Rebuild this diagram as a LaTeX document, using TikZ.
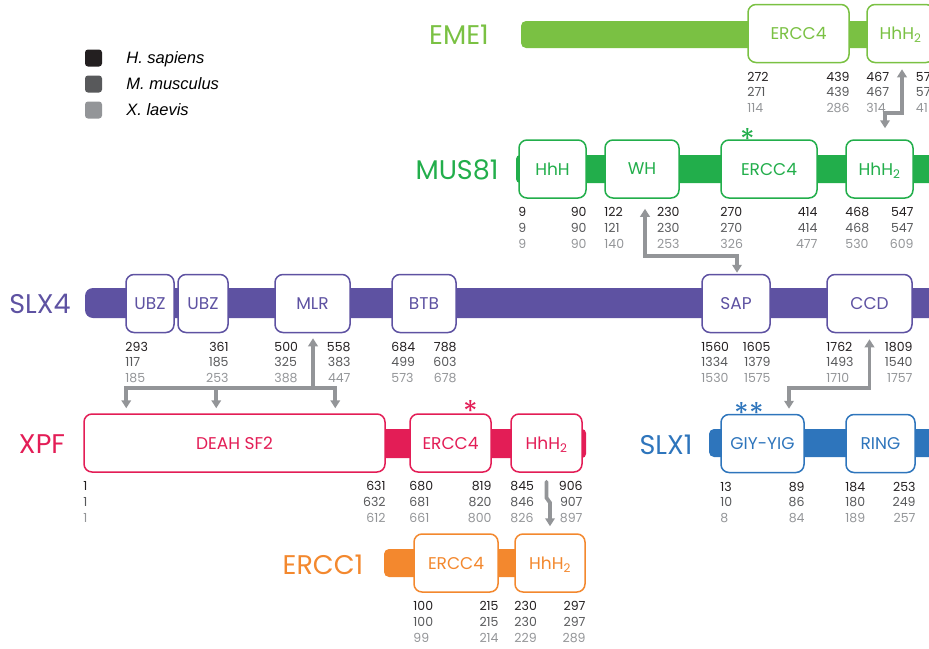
\documentclass[tikz,border=0pt]{standalone}
\usepackage{fontspec}
\setmainfont{Poppins}
\newfontfamily\legendfont{Liberation Sans}
\usetikzlibrary{arrows.meta,calc,positioning}

\definecolor{emegreen}{HTML}{7AC143}
\definecolor{musgreen}{HTML}{22AE4B}
\definecolor{slxpurple}{HTML}{5E52A2}
\definecolor{xpfred}{HTML}{E31D56}
\definecolor{slxblue}{HTML}{2E75BC}
\definecolor{erccorange}{HTML}{F3882E}
\definecolor{linkgray}{HTML}{939598}
\definecolor{hsap}{HTML}{231F20}
\definecolor{mmus}{HTML}{58595B}
\definecolor{xlae}{HTML}{939598}

\newcommand{\trio}[3]{\textcolor{hsap}{#1}\\\textcolor{mmus}{#2}\\\textcolor{xlae}{#3}}

\tikzset{
  dom/.style={draw=#1, fill=white, text=#1, line width=1.5pt, rounded corners=8pt,
    minimum height=58pt, inner sep=0pt, text depth=0pt, font=\fontsize{17}{17}\selectfont},
  prot/.style={text=#1, inner sep=0pt, font=\fontsize{27}{27}\selectfont},
  numl/.style={anchor=north west, align=left, inner sep=0pt, yshift=-8.5pt, font=\fontsize{12.5}{15.8}\selectfont},
  numr/.style={anchor=north east, align=right, inner sep=0pt, yshift=-8.5pt, font=\fontsize{12.5}{15.8}\selectfont},
  link/.style={draw=linkgray, line width=3.8pt},
  lk/.tip={Triangle[length=8pt,width=9.5pt]},
  astk/.style={text=#1, inner sep=0pt, font=\fontsize{30}{30}\selectfont},
  legbox/.style={fill=#1, rounded corners=3pt, minimum size=17pt, inner sep=0pt},
  legtext/.style={anchor=west, inner sep=0pt, text depth=0pt, font=\legendfont\itshape\fontsize{16.5}{16.5}\selectfont}
}

\begin{document}
\begin{tikzpicture}[x=1pt,y=-1pt]
    \useasboundingbox (0,0) rectangle (929,648);
    \clip (0,0) rectangle (929,648);

    % Legend
    \node[legbox=hsap] (lg1) at (93.5,58) {};
    \node[legbox=mmus] (lg2) at (93.5,84) {};
    \node[legbox=xlae] (lg3) at (93.5,110) {};
    \node[legtext, right=24pt of lg1] (lgt1) {H. sapiens};
    \node[legtext, right=24pt of lg2] (lgt2) {M. musculus};
    \node[legtext, right=24pt of lg3] (lgt3) {X. laevis};

    % Backbones
    \fill[emegreen, rounded corners=5pt] (521,21) rectangle (960,48);
    \fill[musgreen, rounded corners=4pt] (516,155) rectangle (960,183);
    \fill[slxpurple, rounded corners=8pt] (85,288) rectangle (960,318);
    \fill[xpfred, rounded corners=4pt] (380,429) rectangle (586,458);
    \fill[slxblue, rounded corners=5pt] (709,429) rectangle (960,457);
    \fill[erccorange, rounded corners=5pt] (384,549) rectangle (540,577);

    % Protein names
    \node[prot=emegreen] (eme1) at (459,35) {EME1};
    \node[prot=musgreen] (mus81) at (457,170) {MUS81};
    \node[prot=slxpurple] (slx4) at (40,304) {SLX4};
    \node[prot=xpfred] (xpf) at (42,444) {XPF};
    \node[prot=slxblue] (slx1) at (666,445) {SLX1};
    \node[prot=erccorange] (ercc1) at (323,565) {ERCC1};

    % Domains
    \node[dom=emegreen, minimum width=101pt] (eercc) at (798.5,33.5) {ERCC4};
    \node[dom=emegreen, minimum width=67pt] (ehhh) at (900.5,33.5) {HhH\textsubscript{2}};

    \node[dom=musgreen, minimum width=67pt] (mhhh) at (552.5,169) {HhH};
    \node[dom=musgreen, minimum width=74pt] (mwh) at (642,169) {WH};
    \node[dom=musgreen, minimum width=96pt] (mercc) at (769,169) {ERCC4};
    \node[dom=musgreen, minimum width=67pt] (mhhh2) at (879.5,169) {HhH\textsubscript{2}};

    \node[dom=slxpurple, minimum width=48pt] (subz1) at (150,303.5) {UBZ};
    \node[dom=slxpurple, minimum width=50pt] (subz2) at (203,303.5) {UBZ};
    \node[dom=slxpurple, minimum width=75pt] (smlr) at (312.5,303.5) {MLR};
    \node[dom=slxpurple, minimum width=64pt] (sbtb) at (424,303.5) {BTB};
    \node[dom=slxpurple, minimum width=68pt] (ssap) at (736,303.5) {SAP};
    \node[dom=slxpurple, minimum width=85pt] (sccd) at (869.5,303.5) {CCD};

    \node[dom=xpfred, minimum width=301pt] (xdeah) at (234.5,443) {DEAH SF2};
    \node[dom=xpfred, minimum width=81pt] (xercc) at (450.5,443) {ERCC4};
    \node[dom=xpfred, minimum width=71pt] (xhhh) at (546.5,443) {HhH\textsubscript{2}};

    \node[dom=slxblue, minimum width=83pt] (lgiy) at (762.5,443.5) {GIY-YIG};
    \node[dom=slxblue, minimum width=69pt] (lring) at (880.5,443.5) {RING};

    \node[dom=erccorange, minimum width=84pt] (cercc) at (456,563) {ERCC4};
    \node[dom=erccorange, minimum width=70pt] (chhh) at (550,563) {HhH\textsubscript{2}};

    % Catalytic residues
    \node[astk=musgreen] (st1) at (748,139) {*};
    \node[astk=xpfred] (st2) at (471,411) {*};
    \node[astk=slxblue] (st3) at (742,413) {*};
    \node[astk=slxblue] (st4) at (757,413) {*};

    % Residue numbers
    \foreach \dm/\na/\nb/\nc/\nd/\ne/\nf in {
        eercc/272/271/114/439/439/286,
        mhhh/9/9/9/90/90/90, mwh/122/121/140/230/230/253,
        mercc/270/270/326/414/414/477, mhhh2/468/468/530/547/547/609,
        smlr/500/325/388/558/383/447, sbtb/684/499/573/788/603/678,
        ssap/1560/1334/1530/1605/1379/1575, sccd/1762/1493/1710/1809/1540/1757,
        xdeah/1/1/1/631/632/612, xercc/680/681/661/819/820/800,
        xhhh/845/846/826/906/907/897,
        lgiy/13/10/8/89/86/84, lring/184/180/189/253/249/257,
        cercc/100/100/99/215/215/214, chhh/230/230/229/297/297/289} {
        \node[numl] (\dm-l) at (\dm.south west) {\trio{\na}{\nb}{\nc}};
        \node[numr] (\dm-r) at (\dm.south east) {\trio{\nd}{\ne}{\nf}};
    }
    \node[numl] (ehhh-l) at (ehhh.south west) {\trio{467}{467}{314}};
    \node[numl] (ehhh-r) at ([xshift=-19pt]ehhh.south east) {\trio{57}{57}{41}};
    \node[numl] (subz1-l) at (subz1.south west) {\trio{293}{117}{185}};
    \node[numr] (subz2-r) at (subz2.south east) {\trio{361}{185}{253}};

    % Interactions
    \draw[link, {lk}-{lk}] ($(ehhh.south)+(1.5,6)$) -- ++(0,44) -| ($(mhhh2.north)+(5.5,-11)$);
    \draw[link, {lk}-{lk}] ($(mwh.south)+(3,10)$) -- ++(0,47) -| ($(ssap.north)+(1,-1)$);
    \coordinate (fork) at ($(smlr.south)+(0.5,55)$);
    \draw[link, -{lk}] (fork) -- ($(smlr.south)+(0.5,5)$);
    \draw[link, {lk}-{lk}] ($(xdeah.north west)+(43,-5)$) |- (fork) -| ($(xdeah.north west)+(252,-5)$);
    \draw[link, -{lk}] ($(xdeah.north west)+(133,-26)$) -- ++(0,21);
    \draw[link, {lk}-{lk}] ($(sccd.south)+(0,6)$) -- ++(0,49) -| ($(lgiy.north)+(26.5,-5)$);
    \draw[link, line cap=round, -{lk}] ($(xhhh.south)+(0,9)$) -- ++(0,16) -- ++(3.5,5) -- ($(chhh.north)+(0,-7)$);
\end{tikzpicture}
\end{document}
